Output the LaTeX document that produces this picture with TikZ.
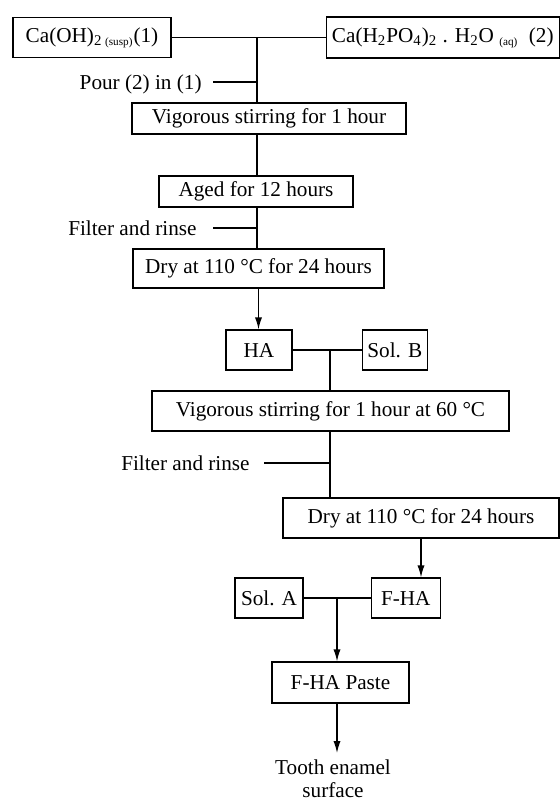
\documentclass[tikz,border=0pt]{standalone}
\usepackage{fontspec}
\setmainfont{Liberation Serif}
\usetikzlibrary{positioning,calc,arrows.meta}

\newcommand{\tinysub}[1]{{\fontsize{5.6}{6}\selectfont #1}}

\begin{document}
\begin{tikzpicture}[x=0.5pt,y=-0.5pt,
    font=\fontsize{10.6}{12.7}\selectfont,
    stage/.style={draw,line width=0.65pt,inner sep=0pt,minimum height=20pt},
    note/.style={inner sep=0pt},
    flow/.style={line width=0.65pt},
    arr/.style={flow,-{Latex[length=6pt,width=3.6pt]}}]
    \useasboundingbox (0,0) rectangle (560,799);

    % first step
    \node[stage,minimum width=79pt] (caoh) at (92,37.5) {Ca(OH)\textsubscript{2 \tinysub{(susp)}}(1)};
    \node[stage,minimum width=116.5pt,minimum height=20.5pt] (cahp) [right=77pt of caoh]
        {Ca(H\textsubscript{2}PO\textsubscript{4})\textsubscript{2} . H\textsubscript{2}O \textsubscript{\tinysub{(aq)}}\ \ (2)};
    \coordinate (j1) at (257,37.5);
    \node[note,anchor=base east] (pour) at (202,89) {Pour (2) in (1)};
    \node[stage,minimum width=137pt,minimum height=15.5pt] (stir) at (269,118.5) {Vigorous stirring for 1 hour};
    \node[stage,minimum width=97pt,minimum height=15.5pt] (aged) at (256,191.5) {Aged for 12 hours};
    \node[note,anchor=base east] (filt1) at (197,235) {Filter and rinse};
    \node[stage,minimum width=125.5pt,minimum height=19.5pt] (dry1) at (258.5,268.5) {Dry at 110 °C for 24 hours};

    % second step
    \node[stage,minimum width=33pt] (ha) at (259,350) {HA};
    \node[stage,minimum width=32.5pt] (solb) [right=34.5pt of ha] {Sol. B};
    \coordinate (j2) at (330,350);
    \node[stage,minimum width=178.5pt] (stir60) at (330.5,411) {Vigorous stirring for 1 hour at 60 °C};
    \node[note,anchor=base east] (filt2) at (250,470) {Filter and rinse};
    \node[stage,minimum width=138pt] (dry2) at (421,518) {Dry at 110 °C for 24 hours};

    % paste
    \node[stage,minimum width=34pt] (sola) at (269,598) {Sol. A};
    \node[stage,minimum width=34.5pt] (fha) [right=33.5pt of sola] {F-HA};
    \coordinate (j3) at (337,598);
    \node[stage,minimum width=68.5pt,minimum height=20.5pt] (paste) at (340.5,682.5) {F-HA Paste};
    \node[align=center,inner sep=3pt,anchor=north,font=\fontsize{10.6}{11.5}\selectfont] (tooth) at (333,753) {Tooth enamel\\surface};

    \draw[flow] (caoh) -- (cahp);
    \draw[flow] (j1) -- (j1 |- stir.north);
    \draw[flow] ([xshift=5.5pt,yshift=3.5pt]pour.base east) -- ([yshift=3.5pt]pour.base east -| j1);
    \draw[flow] (j1 |- stir.south) -- (j1 |- aged.north);
    \draw[flow] (j1 |- aged.south) -- (j1 |- dry1.north);
    \draw[flow] ([xshift=8pt,yshift=3.5pt]filt1.base east) -- ([yshift=3.5pt]filt1.base east -| j1);
    \draw[arr] (dry1.south) -- (dry1.south |- ha.north);

    \draw[flow] (ha) -- (solb);
    \draw[flow] (j2) -- (j2 |- stir60.north);
    \draw[flow] (j2 |- stir60.south) -- (j2 |- dry2.north);
    \draw[flow] ([xshift=7pt,yshift=3.5pt]filt2.base east) -- ([yshift=3.5pt]filt2.base east -| j2);
    \draw[arr] (dry2.south) -- (dry2.south |- fha.north);

    \draw[flow] (sola) -- (fha);
    \draw[arr] (j3) -- (j3 |- paste.north);
    \draw[arr] (j3 |- paste.south) -- (j3 |- tooth.north);
\end{tikzpicture}
\end{document}
